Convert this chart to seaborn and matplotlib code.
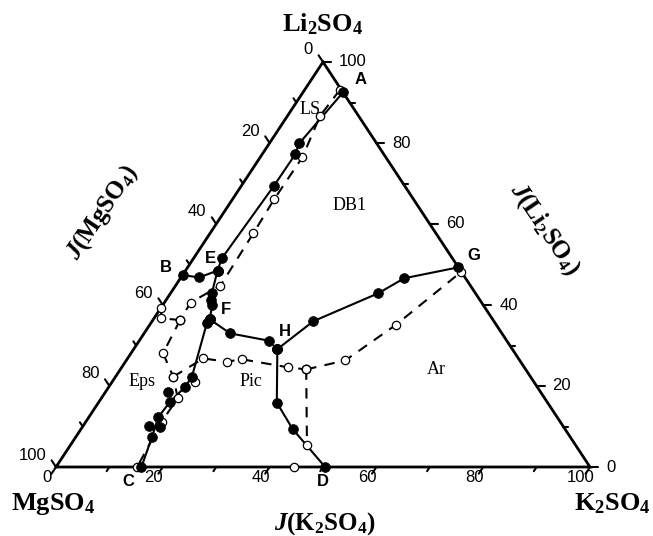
import pandas as pd
import seaborn as sns
import matplotlib.pyplot as plt

W, H = 653, 536

# ---- solid isotherm (filled circles): J(Li2SO4), J(K2SO4) ----
ae_li = [92.5, 79.9, 77.2, 69.5, 51.5, 48.5]
ae_k = [7.5, 5.6, 6.2, 6.1, 5.3, 6.0]
be_li = [47.4, 46.8, 48.5]
be_k = [0.0, 3.4, 6.0]
ef_li = [48.5, 43.0, 41.2, 40.0, 36.5]
ef_k = [6.0, 7.7, 8.4, 9.3, 10.5]
fc_li = [36.5, 35.5, 22.3, 19.8, 16.1, 12.3, 7.3, 0.0]
fc_k = [10.5, 10.5, 14.3, 14.3, 13.3, 13.0, 14.3, 16.0]
fh_li = [36.5, 33.0, 31.2, 29.1]
fh_k = [10.5, 16.1, 24.2, 26.9]
hg_li = [29.1, 36.0, 42.9, 46.6, 49.3]
hg_k = [26.9, 30.2, 38.9, 41.9, 50.7]
hd_li = [29.1, 15.9, 9.4, 0.0]
hd_k = [26.9, 33.4, 39.6, 50.4]
solid_extra_li = [18.6, 10.2, 10.0]
solid_extra_k = [11.7, 12.4, 14.5]

# ---- dashed isotherm (open circles) ----
ae2_li = [93.1, 86.7, 76.5, 66.2, 57.7, 44.8, 40.6, 36.3]
ae2_k = [6.6, 6.1, 7.9, 7.8, 8.1, 8.4, 4.9, 5.1]
be2_li = [39.3, 36.7, 36.3]
be2_k = [0.0, 1.4, 5.1]
efc2_li = [36.3, 28.1, 22.3, 17.0, 11.2, 0.0]
efc2_k = [5.1, 6.0, 10.8, 14.3, 14.2, 15.2]
fh2_li = [22.3, 26.8, 26.0, 26.6, 24.6, 24.1]
fh2_k = [10.8, 14.2, 19.0, 21.5, 31.2, 34.8]
hg2_li = [24.1, 26.3, 35.1, 48.2]
hg2_k = [34.8, 41.0, 46.1, 51.8]
hd2_li = [24.1, 5.4]
hd2_k = [34.8, 44.3]
open_extra_li = [21.1, 0.0]
open_extra_k = [15.5, 44.5]

ticks = [0, 10, 20, 30, 40, 50, 60, 70, 80, 90, 100]
tick_labels = ["0", "20", "40", "60", "80", "100"]

solid = {"AE": (ae_li, ae_k), "BE": (be_li, be_k), "EF": (ef_li, ef_k),
         "FC": (fc_li, fc_k), "FH": (fh_li, fh_k), "HG": (hg_li, hg_k),
         "HD": (hd_li, hd_k)}
dashed = {"AE2": (ae2_li, ae2_k), "BE2": (be2_li, be2_k), "EFC2": (efc2_li, efc2_k),
          "FH2": (fh2_li, fh2_k), "HG2": (hg2_li, hg2_k), "HD2": (hd2_li, hd2_k)}


def tern(li, k):
    # ternary -> plane coords (x along MgSO4-K2SO4 edge, y = J(Li2SO4))
    df = pd.DataFrame({"li": li, "k": k})
    df["x"] = df["k"] + df["li"] / 2
    df["y"] = df["li"]
    return df


def off(dx, dy):
    # pixel offset (screen, y down) -> data offset
    return dx * 100 / 534, -dy * 100 / 405


def fp(x, y):
    return x / W, 1 - y / H


sns.set_theme(style="white")
plt.rcParams["font.family"] = ["Liberation Sans", "DejaVu Sans"]
plt.rcParams["text.color"] = "black"
plt.rcParams["mathtext.fontset"] = "custom"
plt.rcParams["mathtext.rm"] = "Liberation Serif:bold"
plt.rcParams["mathtext.bf"] = "Liberation Serif:bold"
plt.rcParams["mathtext.it"] = "Liberation Serif:italic:bold"

fig = plt.figure(figsize=(W / 100, H / 100), dpi=100)
ax = fig.add_axes([56 / W, 69 / H, 534 / W, 405 / H])
ax.set_xlim(0, 100)
ax.set_ylim(0, 100)
ax.axis("off")

# triangle frame
ax.plot([0, 100, 50, 0], [0, 0, 100, 0], color="black", lw=2, clip_on=False,
        solid_joinstyle="miter")

# ticks
for v in ticks:
    ln = 8 if v % 20 == 0 else 5
    # bottom: J(K2SO4), parallel to left edge, outward
    dx, dy = off(-0.55 * ln, 0.835 * ln)
    ax.plot([v, v + dx], [0, dy], color="black", lw=1.5, clip_on=False)
    # right: J(Li2SO4), horizontal outward
    dx, dy = off(ln, 0)
    ax.plot([100 - v / 2, 100 - v / 2 + dx], [v, v], color="black", lw=1.5, clip_on=False)
    # left: J(MgSO4), parallel to right edge, outward
    dx, dy = off(-0.55 * ln, -0.835 * ln)
    ax.plot([(100 - v) / 2, (100 - v) / 2 + dx], [100 - v, 100 - v + dy],
            color="black", lw=1.5, clip_on=False)

for v, lab in zip(range(0, 101, 20), tick_labels):
    ax.annotate(lab, (v, 0), xytext=(-9, -11), textcoords="offset pixels",
                ha="center", va="center", fontsize=12)
    ax.annotate(lab, (100 - v / 2, v), xytext=(16, 0), textcoords="offset pixels",
                ha="left", va="center", fontsize=12)
    ax.annotate(lab, ((100 - v) / 2, 100 - v), xytext=(-10, 12), textcoords="offset pixels",
                ha="right", va="center", fontsize=12)

# dashed isotherm
for name, (li, k) in dashed.items():
    d = tern(li, k)
    sns.lineplot(data=d, x="x", y="y", sort=False, estimator=None, color="black",
                 lw=1.5, linestyle=(0, (5, 4)), ax=ax)
for name, (li, k) in list(dashed.items()) + [("extra", (open_extra_li, open_extra_k))]:
    d = tern(li, k)
    sns.scatterplot(data=d, x="x", y="y", s=36, facecolor="white", edgecolor="black",
                    linewidth=0.9, zorder=3, ax=ax, clip_on=False)

# solid isotherm
for name, (li, k) in solid.items():
    d = tern(li, k)
    sns.lineplot(data=d, x="x", y="y", sort=False, estimator=None, color="black",
                 lw=1.5, ax=ax)
for name, (li, k) in list(solid.items()) + [("extra", (solid_extra_li, solid_extra_k))]:
    d = tern(li, k)
    sns.scatterplot(data=d, x="x", y="y", s=50, color="black", edgecolor="black",
                    linewidth=0.5, zorder=4, ax=ax, clip_on=False)

ax.set_xlim(0, 100)
ax.set_ylim(0, 100)

# corner and axis titles
fig.text(*fp(323, 24), r"$\mathbf{Li_2SO_4}$", fontsize=19, ha="center", va="center")
fig.text(*fp(53, 504), r"$\mathbf{MgSO_4}$", fontsize=19, ha="center", va="center")
fig.text(*fp(612, 504), r"$\mathbf{K_2SO_4}$", fontsize=19, ha="center", va="center")
fig.text(*fp(325, 524), r"$\mathit{J}\mathbf{(K_2SO_4)}$", fontsize=18, ha="center", va="center")
fig.text(*fp(102, 212), r"$\mathit{J}\mathbf{(MgSO_4)}$", fontsize=18, ha="center",
         va="center", rotation=56)
fig.text(*fp(545, 230), r"$\mathit{J}\mathbf{(Li_2SO_4)}$", fontsize=18, ha="center",
         va="center", rotation=-56)

# invariant point labels
for lab, x, y in [("A", 361, 79), ("B", 166, 267), ("E", 210, 259), ("F", 226, 310),
                  ("G", 474, 255), ("H", 285, 331), ("C", 128, 481), ("D", 323, 481)]:
    fig.text(*fp(x, y), lab, fontsize=12, fontweight="bold", ha="center", va="center")

# crystallization field labels
for lab, x, y in [("LS", 310, 110), ("DB1", 350, 205), ("Eps", 142, 381),
                  ("Pic", 251, 382), ("Ar", 436, 369)]:
    fig.text(*fp(x, y), lab, fontsize=13, family="Liberation Serif", ha="center", va="center")

fig.savefig("out.png", dpi=100, facecolor="white")
